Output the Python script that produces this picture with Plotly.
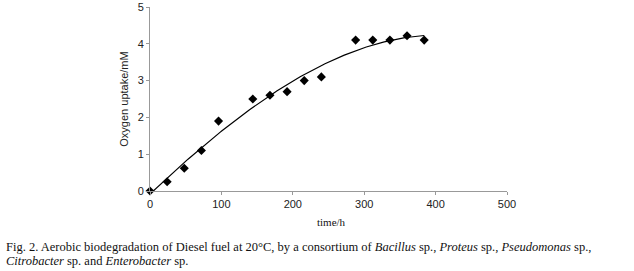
import numpy as np
import plotly.graph_objects as go

# Data
time_h = [0, 24, 48, 72, 96, 144, 168, 192, 216, 240, 288, 312, 336, 360, 384]
oxygen_mM = [0.0, 0.25, 0.62, 1.1, 1.9, 2.5, 2.6, 2.7, 3.0, 3.1, 4.1, 4.1, 4.1, 4.22, 4.1]
x_ticks = [0, 100, 200, 300, 400, 500]
y_ticks = [0, 1, 2, 3, 4, 5]

# Polynomial trendline fitted to the data (as in the original spreadsheet chart)
coef = np.polyfit(time_h, oxygen_mM, 3)
fit_x = np.linspace(min(time_h), max(time_h), 200)
fit_y = np.polyval(coef, fit_x)

W, H = 634, 271
L, R, T, B = 150, 127, 7, 80
pw, ph = W - L - R, H - T - B

def px(x):
    return (x - L) / pw

def py(y):
    return (H - B - y) / ph

fig = go.Figure()
fig.add_trace(go.Scatter(x=fit_x, y=fit_y, mode="lines",
                         line=dict(color="black", width=1.2),
                         hoverinfo="skip", showlegend=False))
fig.add_trace(go.Scatter(x=time_h, y=oxygen_mM, mode="markers",
                         marker=dict(symbol="diamond", size=7, color="black"),
                         showlegend=False, cliponaxis=False))

axis_font = dict(family="Liberation Sans, Arial", size=11, color="#222")
fig.update_xaxes(range=[0, 500], tickvals=x_ticks, showgrid=False, zeroline=False,
                 showline=True, linecolor="#999", linewidth=1,
                 ticks="outside", ticklen=3, tickcolor="#999",
                 tickfont=axis_font, automargin=False)
fig.update_yaxes(range=[0, 5], tickvals=y_ticks, showgrid=False, zeroline=False,
                 showline=True, linecolor="#999", linewidth=1,
                 ticks="outside", ticklen=3, tickcolor="#999",
                 tickfont=axis_font, automargin=False,
                 title=dict(text="Oxygen uptake/mM", standoff=6,
                            font=dict(family="Liberation Sans, Arial", size=11, color="#222")))

serif = dict(family="Liberation Serif, Times New Roman", size=12.5, color="#111")
annotations = [
    dict(text="time/h", x=px(331), y=py(222), xref="paper", yref="paper",
         xanchor="center", yanchor="middle", showarrow=False,
         font=dict(family="Liberation Serif, Times New Roman", size=11, color="#111")),
    dict(text="Fig. 2. Aerobic biodegradation of Diesel fuel at 20°C, by a consortium of "
              "<i>Bacillus</i> sp., <i>Proteus</i> sp., <i>Pseudomonas</i> sp.,",
         x=px(4), y=py(246.5), xref="paper", yref="paper",
         xanchor="left", yanchor="middle", showarrow=False, font=serif),
    dict(text="<i>Citrobacter</i> sp. and <i>Enterobacter</i> sp.",
         x=px(4), y=py(261), xref="paper", yref="paper",
         xanchor="left", yanchor="middle", showarrow=False, font=serif),
]

fig.update_layout(width=W, height=H, margin=dict(l=L, r=R, t=T, b=B),
                  paper_bgcolor="white", plot_bgcolor="white",
                  annotations=annotations, showlegend=False)

# Remove the default 8px page margin so the figure fills the window exactly
fig.write_html("out.html",
               config={"displayModeBar": False},
               post_script="document.body.style.margin='0';"
                           "document.body.style.overflow='hidden';")
